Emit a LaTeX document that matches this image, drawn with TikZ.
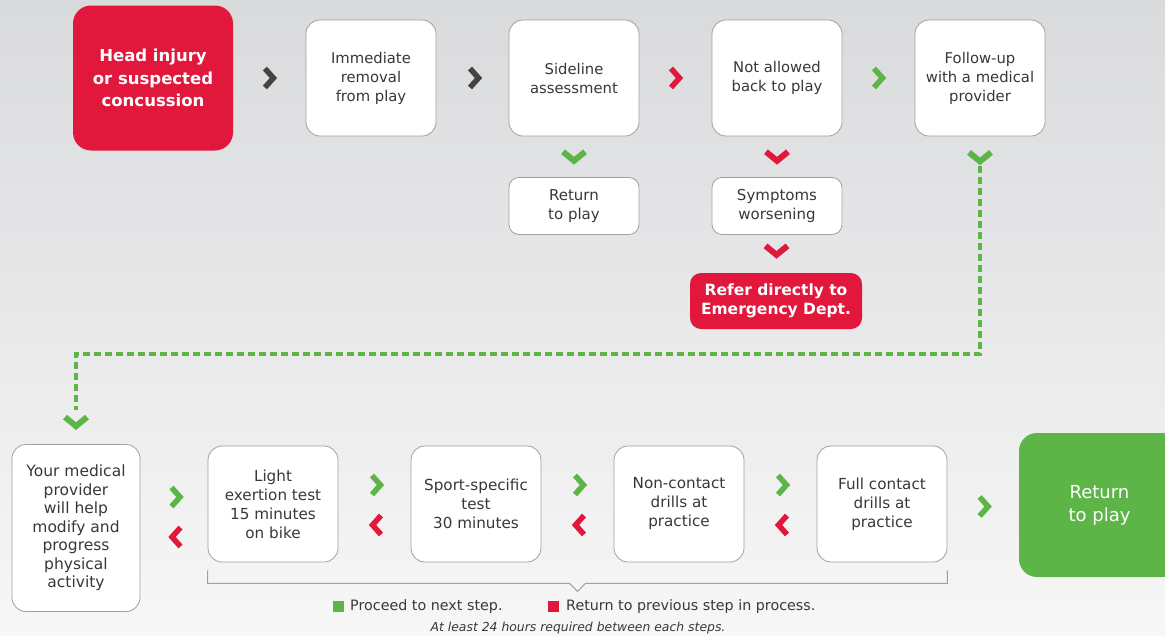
\documentclass[tikz,border=0pt]{standalone}
\usepackage{fontspec}
\setmainfont{DejaVu Sans}
\usetikzlibrary{calc}
\definecolor{cred}{HTML}{E1173C}
\definecolor{cgreen}{HTML}{5DB548}
\definecolor{cdark}{HTML}{434343}
\definecolor{ctext}{HTML}{383838}
\definecolor{cborder}{HTML}{A0A0A0}
\definecolor{bgtop}{HTML}{D9DADC}
\definecolor{bgbot}{HTML}{F7F7F7}
\begin{document}
\begin{tikzpicture}[x=1pt,y=-1pt,
  wbox/.style={draw=cborder, line width=0.8pt, fill=white, rounded corners=14pt,
    minimum width=130pt, minimum height=116pt, align=center, text=ctext,
    inner sep=2pt, font=\fontsize{14.8}{19}\selectfont},
  sbox/.style={wbox, minimum height=57pt, rounded corners=10pt, font=\fontsize{15}{18.5}\selectfont},
  bbox/.style={wbox, font=\fontsize{15.2}{19}\selectfont},
  redbox/.style={fill=cred, text=white, rounded corners=18pt, align=center,
    font=\bfseries\fontsize{16.5}{22.5}\selectfont},
  rchev/.pic={\draw[line width=5.5pt, line join=miter] (-4.5,-9.5) -- (4,0) -- (-4.5,9.5);},
  lchev/.pic={\draw[line width=5.5pt, line join=miter] (4.5,-9.5) -- (-4,0) -- (4.5,9.5);},
  dchev/.pic={\draw[line width=6pt, line join=miter] (-11,-5) -- (0,4) -- (11,-5);},
  dashline/.style={cgreen, line width=4pt, dash pattern=on 7pt off 4pt},
  legtext/.style={anchor=west, text=ctext, inner sep=0pt, font=\fontsize{14.3}{16}\selectfont},
]
\clip (0,0) rectangle (1165,635);
\useasboundingbox (0,0) rectangle (1165,635);
\shade[top color=bgtop, bottom color=bgbot] (0,0) rectangle (1165,635);

% top row
\node[redbox, minimum width=160pt, minimum height=145pt] (head) at (153,78)
  {Head injury\\or suspected\\concussion};
\node[wbox] (imm) at (371,78) {Immediate\\removal\\from play};
\node[wbox] (side) at (574,78) {Sideline\\assessment};
\node[wbox] (nab) at (777,78) {Not allowed\\back to play};
\node[wbox] (fu) at (980,78) {Follow-up\\with a medical\\provider};

\path (head.east) -- (imm.west) coordinate[midway] (c1);
\path (imm.east) -- (side.west) coordinate[midway] (c2);
\path (side.east) -- (nab.west) coordinate[midway] (c3);
\path (nab.east) -- (fu.west) coordinate[midway] (c4);
\pic[color=cdark] at (c1) {rchev};
\pic[color=cdark] at ($(c2)+(2,0)$) {rchev};
\pic[color=cred] at (c3) {rchev};
\pic[color=cgreen] at (c4) {rchev};

% second row
\node[sbox] (ret1) at (574,206) {Return\\to play};
\node[sbox] (sym) at (777,206) {Symptoms\\worsening};
\node[redbox, minimum width=172pt, minimum height=56pt, rounded corners=11pt,
  font=\bfseries\fontsize{15.5}{18.5}\selectfont] (ref) at (776,301)
  {Refer directly to\\Emergency Dept.};

\path (side.south) -- (ret1.north) coordinate[midway] (d1);
\path (nab.south) -- (sym.north) coordinate[midway] (d2);
\path (sym.south) -- (ref.north) coordinate[midway] (d3);
\pic[color=cgreen] at (d1) {dchev};
\pic[color=cred] at (d2) {dchev};
\pic[color=cred] at ($(d3)+(0,-3)$) {dchev};
\pic[color=cgreen] at ($(fu.south)+(0,21)$) {dchev};

% bottom row
\node[bbox, minimum width=128pt, minimum height=167pt, font=\fontsize{15.5}{18.5}\selectfont] (med) at (76,528)
  {Your medical\\provider\\will help\\modify and\\progress\\physical\\activity};
\node[bbox] (light) at (273,504) {Light\\exertion test\\15 minutes\\on bike};
\node[bbox] (sport) at (476,504) {Sport-specific\\test\\30 minutes};
\node[bbox] (non) at (679,504) {Non-contact\\drills at\\practice};
\node[bbox] (full) at (882,504) {Full contact\\drills at\\practice};
\node[fill=cgreen, text=white, rounded corners=18pt, minimum width=161pt, minimum height=144pt,
  align=center, font=\fontsize{18}{23}\selectfont] (ret2) at (1099.5,505) {Return\\to play};

% dashed connector
\draw[dashline] ([yshift=-30pt]fu.south) -- ++(0,188) -| ([yshift=34pt]med.north);
\pic[color=cgreen] at ($(med.north)+(0,-22)$) {dchev};

\foreach \a/\b/\n in {med/light/1, light/sport/2, sport/non/3, non/full/4}{
  \path (\a.east) -- (\b.west) coordinate[midway] (m\n);
  \pic[color=cgreen] at ($(m\n)+(2,-19)$) {rchev};
  \pic[color=cred] at ($(m\n)+(2,21)$) {lchev};
}
\path (full.east) -- (ret2.west) coordinate[midway] (m5);
\pic[color=cgreen] at ($(m5)+(1,2)$) {rchev};

% bracket
\coordinate (bl) at ($(light.south west)+(0,8)$);
\coordinate (br) at ($(full.south east)+(0,8)$);
\coordinate (bt) at ($(light.south west)!0.5!(full.south east)+(0,29)$);
\draw[cborder, line width=1pt] (bl) -- ++(0,13) -- ($(bt)+(-8,-8)$) -- (bt) -- ($(bt)+(8,-8)$) -| (br);

% legend
\fill[cgreen] (333,601) rectangle (344,612);
\node[legtext] (leg1) at (350,607) {Proceed to next step.};
\fill[cred] (548,601) rectangle (559,612);
\node[legtext] (leg2) at (566,607) {Return to previous step in process.};
\node[text=ctext, inner sep=0pt, font=\itshape\fontsize{12.4}{14}\selectfont] (leg3) at (578,628)
  {At least 24 hours required between each steps.};
\end{tikzpicture}
\end{document}
